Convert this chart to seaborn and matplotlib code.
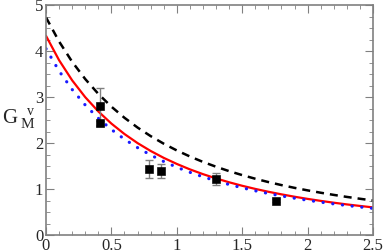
import matplotlib
matplotlib.use('Agg')
import matplotlib.pyplot as plt
import numpy as np
import pandas as pd
import seaborn as sns
from matplotlib.ticker import MultipleLocator

q2 = [0.0, 0.1, 0.2, 0.3, 0.4, 0.5, 0.6, 0.7, 0.8, 0.9, 1.0, 1.1, 1.2,
      1.3, 1.4, 1.5, 1.6, 1.7, 1.8, 1.9, 2.0, 2.1, 2.2, 2.3, 2.4, 2.5]
dashed = [4.73, 4.207, 3.765, 3.390, 3.068, 2.790, 2.548, 2.336, 2.150, 1.985,
          1.838, 1.707, 1.589, 1.484, 1.388, 1.302, 1.223, 1.151, 1.085, 1.025,
          0.970, 0.919, 0.872, 0.828, 0.788, 0.750]
solid = [4.33, 3.800, 3.362, 2.996, 2.686, 2.422, 2.195, 1.998, 1.827, 1.677,
         1.545, 1.427, 1.323, 1.230, 1.146, 1.070, 1.002, 0.940, 0.884, 0.832,
         0.785, 0.742, 0.702, 0.665, 0.632, 0.600]
dotted = [4.05, 3.565, 3.163, 2.825, 2.538, 2.293, 2.082, 1.899, 1.738, 1.598,
          1.473, 1.363, 1.265, 1.177, 1.097, 1.026, 0.961, 0.902, 0.849, 0.800,
          0.755, 0.714, 0.676, 0.641, 0.609, 0.579]

# data points
exp_q2 = [0.41, 0.41, 0.79, 0.88, 1.30, 1.755]
exp_g = [2.80, 2.43, 1.43, 1.40, 1.22, 0.75]
exp_err = [0.40, 0.05, 0.19, 0.15, 0.13, 0.03]

sns.set_style('ticks')
plt.rcParams['font.family'] = 'serif'
plt.rcParams['font.serif'] = ['Liberation Serif', 'DejaVu Serif']

fig = plt.figure(figsize=(3.84, 2.5), dpi=100)
ax = fig.add_axes([46/384, 15/250, 327/384, 230/250])

df = pd.DataFrame({'q2': q2, 'dashed': dashed, 'solid': solid, 'dotted': dotted})
sns.lineplot(data=df, x='q2', y='dashed', ax=ax, color='black', lw=1.8)
ax.lines[-1].set_linestyle((0, (3.2, 2.4)))
sns.lineplot(data=df, x='q2', y='solid', ax=ax, color='#ff0000', lw=1.6)
sns.lineplot(data=df, x='q2', y='dotted', ax=ax, color='#1a1aff', lw=2.3)
ax.lines[-1].set_linestyle((0, (0.05, 3.0)))
ax.lines[-1].set_dash_capstyle('round')

ax.errorbar(exp_q2, exp_g, yerr=exp_err, fmt='none', ecolor='#808080',
            elinewidth=1, capsize=3, capthick=1, zorder=3)
sns.scatterplot(x=exp_q2, y=exp_g, ax=ax, marker='s', s=30, color='black',
                edgecolor='black', zorder=4)

ax.set_xlim(0, 2.5)
ax.set_ylim(0, 5)
ax.xaxis.set_minor_locator(MultipleLocator(0.1))
ax.yaxis.set_minor_locator(MultipleLocator(0.25))
ax.set_xticks([0, 0.5, 1, 1.5, 2, 2.5])
ax.set_xticklabels(['0', '0.5', '1', '1.5', '2', '2.5'])
ax.set_yticks([0, 1, 2, 3, 4, 5])
ax.set_yticklabels(['0', '1', '2', '3', '4', '5'])
ax.tick_params(which='both', direction='in', top=True, right=True,
               color='#808080', labelsize=12, pad=2)
ax.tick_params(which='major', length=6)
ax.tick_params(which='minor', length=3)
for s in ax.spines.values():
    s.set_color('#808080')
    s.set_linewidth(1.2)
ax.set_xlabel('')
ax.set_ylabel('')

fig.text(2/384, 1 - 123/250, 'G', fontsize=15, va='baseline')
fig.text(21/384, 1 - 128/250, 'M', fontsize=11, va='baseline')
fig.text(27/384, 1 - 115/250, 'v', fontsize=10, va='baseline')

fig.savefig('out.png', dpi=100)
